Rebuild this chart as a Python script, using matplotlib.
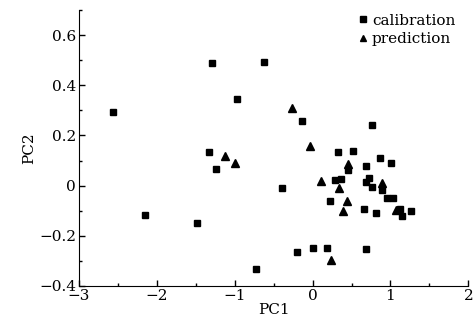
import matplotlib
matplotlib.use('Agg')
import matplotlib.pyplot as plt
from matplotlib.ticker import MultipleLocator, FixedLocator

# calibration set (squares)
cal_pc1 = [-2.56, -1.29, -0.62, -0.97, -0.13, 0.76, -1.33, -1.24, -2.15, -1.49,
           0.32, 0.52, 0.46, 0.68, -0.39, 0.29, 0.36, 0.68, 0.22, 0.66,
           -0.20, 0.00, 0.19, 0.69, -0.73, 0.87, 1.01, 0.73, 0.76, 0.89,
           0.96, 1.03, 0.81, 1.12, 1.15, 1.27]
cal_pc2 = [0.292, 0.487, 0.492, 0.346, 0.257, 0.242, 0.136, 0.066, -0.116, -0.147,
           0.134, 0.139, 0.063, 0.079, -0.008, 0.021, 0.028, 0.013, -0.062, -0.094,
           -0.265, -0.247, -0.249, -0.251, -0.333, 0.110, 0.090, 0.032, -0.007, -0.019,
           -0.050, -0.050, -0.111, -0.093, -0.123, -0.102]

# prediction set (triangles)
pred_pc1 = [-0.26, -1.12, -1.00, -0.03, 0.45, 0.11, 0.34, 0.44, 0.39, 0.24, 0.89, 1.07]
pred_pc2 = [0.308, 0.119, 0.091, 0.156, 0.085, 0.019, -0.011, -0.061, -0.102, -0.298, 0.010, -0.097]

plt.rcParams['font.family'] = 'DejaVu Serif'
plt.rcParams['mathtext.fontset'] = 'dejavuserif'

fig = plt.figure(figsize=(4.77, 3.29), dpi=100)
ax = fig.add_axes([0.1656, 0.1307, 0.8162, 0.8389])

ax.plot(cal_pc1, cal_pc2, 's', color='black', markersize=4.6, label='calibration')
ax.plot(pred_pc1, pred_pc2, '^', color='black', markersize=5.8, label='prediction')

ax.set_xlim(-3, 2)
ax.set_ylim(-0.4, 0.7)
ax.xaxis.set_major_locator(MultipleLocator(1))
ax.xaxis.set_minor_locator(MultipleLocator(0.5))
ax.yaxis.set_major_locator(FixedLocator([-0.4, -0.2, 0, 0.2, 0.4, 0.6]))
ax.yaxis.set_minor_locator(MultipleLocator(0.1))
ax.set_yticklabels(['\u22120.4', '\u22120.2', '0', '0.2', '0.4', '0.6'])
ax.set_xticks([-3, -2, -1, 0, 1, 2])
ax.set_xticklabels(['\u22123', '\u22122', '\u22121', '0', '1', '2'])

ax.spines['top'].set_visible(False)
ax.spines['right'].set_visible(False)
ax.tick_params(which='both', direction='in', labelsize=11, width=1)
ax.tick_params(which='major', length=4, pad=2)
ax.tick_params(which='minor', length=2.5)

ax.set_xlabel('PC1', fontsize=11, labelpad=0)
ax.set_ylabel('PC2', fontsize=11, labelpad=2)

ax.legend(loc='upper right', bbox_to_anchor=(0.99, 1.02), frameon=False, fontsize=11,
          handlelength=0.5, handletextpad=0.3, labelspacing=0.3, borderaxespad=0.2,
          markerscale=0.85)

fig.savefig('out.png', dpi=100)
